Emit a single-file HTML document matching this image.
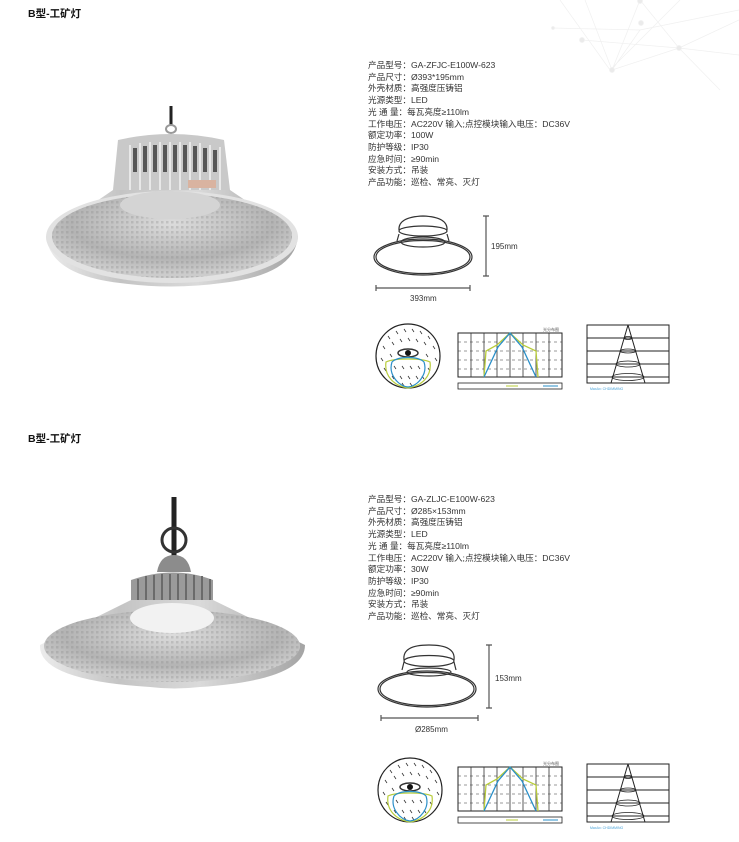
<!DOCTYPE html>
<html><head><meta charset="utf-8"><style>
html,body{margin:0;padding:0;background:#fff;}
body{width:739px;height:842px;position:relative;overflow:hidden;font-family:"Liberation Sans","Noto Sans CJK SC",sans-serif;color:#222;}
.t{position:absolute;left:28px;font-size:10.5px;font-weight:bold;color:#111;}
.spec{position:absolute;left:368px;font-size:8.6px;line-height:11.7px;color:#333;white-space:nowrap;}
svg{position:absolute;left:0;top:0;}
</style></head><body>
<svg width="739" height="842" viewBox="0 0 739 842">
<defs>
<linearGradient id="sh" x1="0" x2="1"><stop offset="0" stop-color="#ececec"/><stop offset=".3" stop-color="#c4c4c4"/><stop offset=".6" stop-color="#dadada"/><stop offset="1" stop-color="#a4a4a4"/></linearGradient>
<radialGradient id="in" cx=".5" cy=".35" r=".6"><stop offset="0" stop-color="#dcdcdc"/><stop offset=".7" stop-color="#b4b4b4"/><stop offset="1" stop-color="#cccccc"/></radialGradient>
<pattern id="dots" width="5" height="5" patternUnits="userSpaceOnUse"><rect x="1" y="1" width="2.5" height="2.5" fill="#8a8a8a" opacity=".3"/></pattern>
<g id="polar">
<circle cx="0" cy="0" r="32" fill="#fff" stroke="#222" stroke-width="1.2"/>
<g stroke="#333" stroke-width=".8" fill="none">
<path d="M-20-20l2 3M-12-25l2 3M-4-27l2 3M4-27l2 3M12-25l2 3M20-20l2 3M-25-10l2 3M-16-14l2 3M-8-17l2 3M0-18l2 3M8-17l2 3M16-14l2 3M25-10l2 3M-27 2l2 3M-18 -2l2 3M18-2l2 3M27 2l2 3M-24 12l2 3M-14 10l2 3M-6 10l2 3M2 10l2 3M10 10l2 3M20 12l2 3M-16 20l2 3M-8 20l2 3M0 20l2 3M8 20l2 3M14 20l2 3M-6 27l2 3M2 27l2 3"/>
</g>
<ellipse cx="0" cy="-3" rx="10" ry="4" fill="none" stroke="#333" stroke-width="1.5"/>
<circle cx="0" cy="-3" r="3" fill="#111"/>
<path d="M-22 6C-24 20-14 30 0 32C14 30 24 20 22 6C14 2-14 2-22 6Z" fill="none" stroke="#b8cc3a" stroke-width="1.2"/>
<path d="M-16 6C-20 18-10 30 0 31C10 30 20 18 16 6C10 0-10 0-16 6Z" fill="none" stroke="#2a8fc8" stroke-width="1.2"/>
</g>
<g id="bar">
<rect x="0" y="0" width="104" height="44" fill="#fff" stroke="#222" stroke-width="1"/>
<g stroke="#333" stroke-width=".6" stroke-dasharray="3 3"><path d="M0 9H104M0 18H104M0 27H104M0 36H104"/></g>
<g stroke="#333" stroke-width=".8"><path d="M13 0V44M26 0V44M39 0V44M52 0V44M65 0V44M78 0V44M91 0V44"/></g>
<path d="M26 44L28 18L39 12L52 0L65 12L78 18L80 44" fill="none" stroke="#b8cc3a" stroke-width="1.3"/>
<path d="M26 44L40 14L52 0L64 14L78 44" fill="none" stroke="#2a8fc8" stroke-width="1.3"/>
<rect x="0" y="50" width="104" height="6" fill="#fff" stroke="#222" stroke-width=".8"/>
<path d="M48 53H60" stroke="#b8cc3a" stroke-width="1"/><path d="M85 53H100" stroke="#2a8fc8" stroke-width="1"/>
</g>
<g id="cone">
<rect x="0" y="0" width="82" height="58" fill="#fff" stroke="#222" stroke-width="1"/>
<path d="M0 13H82M0 26H82M0 39H82M0 52H82" stroke="#222" stroke-width=".9"/>
<path d="M41 0L24 58M41 0L58 58" stroke="#222" stroke-width="1" fill="none"/>
<ellipse cx="41" cy="13" rx="4" ry="1.5" fill="none" stroke="#222" stroke-width=".8"/>
<ellipse cx="41" cy="26" rx="8" ry="2" fill="none" stroke="#222" stroke-width=".8"/>
<ellipse cx="41" cy="39" rx="12" ry="3" fill="none" stroke="#222" stroke-width=".8"/>
<ellipse cx="41" cy="52" rx="16" ry="3.5" fill="none" stroke="#222" stroke-width=".8"/>
</g>
</defs>

<g stroke="#f0f0f0" stroke-width=".7" fill="#ebebeb">
<path d="M560 0L610 70L680 0M585 0L612 70L640 0M612 70L679 48L739 20M582 40L679 48L739 55M640 0L679 48L720 90M612 70L640 30L739 10M552 28L640 30" fill="none"/>
<circle cx="612" cy="70" r="2.5"/><circle cx="679" cy="48" r="2.5"/><circle cx="641" cy="23" r="2.5"/><circle cx="582" cy="40" r="2.5"/><circle cx="640" cy="1" r="2.5"/><circle cx="553" cy="28" r="1.5"/>
</g>

<!-- Lamp 1 -->
<path d="M171 106V126" stroke="#222" stroke-width="3"/>
<ellipse cx="171" cy="129" rx="5" ry="4" fill="none" stroke="#999" stroke-width="2"/>
<path d="M113 190L118 140Q171 128 224 140L230 190Z" fill="#c9c9c9"/>
<g stroke="#555" stroke-width="4"><path d="M135 148V172M145 146V172M155 145V172M165 145V172M175 145V172M185 145V172M195 146V172M205 148V172M215 150V172"/></g>
<g stroke="#e8e8e8" stroke-width="2"><path d="M130 145V190M140 143V190M150 142V190M160 142V190M170 142V190M180 142V190M190 142V190M200 143V190M210 145V190M220 147V190"/></g>
<path d="M113 190L46 236Q50 275 120 283Q171 290 222 283Q295 275 298 236L230 190Z" fill="url(#sh)"/>
<ellipse cx="172" cy="237" rx="126" ry="46" fill="#e2e2e2"/>
<ellipse cx="172" cy="236" rx="120" ry="42" fill="url(#in)"/>
<ellipse cx="172" cy="236" rx="120" ry="42" fill="url(#dots)"/>
<ellipse cx="170" cy="205" rx="50" ry="14" fill="#d4d4d4"/>
<rect x="188" y="180" width="28" height="8" fill="#d9b3a0"/>

<!-- Lamp 2 -->
<path d="M174 497V560" stroke="#222" stroke-width="5"/>
<circle cx="174" cy="540" r="12" fill="none" stroke="#333" stroke-width="3"/>
<path d="M157 572Q160 555 174 555Q188 555 191 572Z" fill="#8c8c8c"/>
<path d="M131 580Q174 565 213 580V600Q174 612 131 600Z" fill="#9a9a9a"/>
<g stroke="#6a6a6a" stroke-width="2"><path d="M138 579V600M146 576V602M154 575V603M162 574V604M170 574V604M178 574V604M186 574V604M194 575V603M202 576V602M210 579V600"/></g>
<path d="M131 600L40 645Q38 680 150 687Q174 690 200 687Q305 680 305 645L213 600Z" fill="url(#sh)"/>
<ellipse cx="172" cy="646" rx="128" ry="36" fill="url(#in)"/>
<ellipse cx="172" cy="646" rx="128" ry="36" fill="url(#dots)"/>
<ellipse cx="172" cy="618" rx="42" ry="15" fill="#f2f2f2"/>

<!-- Drawing 1 -->
<g fill="none" stroke="#333" stroke-width="1.2">
<path d="M399 230Q398 217 423 216Q448 217 447 230"/>
<ellipse cx="423" cy="231" rx="24" ry="5"/>
<path d="M399 234L397 241M447 234L449 241"/>
<ellipse cx="423" cy="242" rx="22" ry="5"/>
<ellipse cx="423" cy="257" rx="49" ry="18"/>
<ellipse cx="423" cy="257" rx="47" ry="16.5"/>
</g>
<path d="M486 216V276M483 216H489M483 276H489" stroke="#555" stroke-width="1.2"/>
<text x="491" y="249" font-size="8" fill="#333" font-family="Liberation Sans">195mm</text>
<path d="M376 288H470M376 285V291M470 285V291" stroke="#555" stroke-width="1.2"/>
<text x="410" y="301" font-size="8" fill="#333" font-family="Liberation Sans">393mm</text>

<!-- Drawing 2 -->
<g fill="none" stroke="#333" stroke-width="1.2">
<path d="M404 660Q402 645 429 645Q456 645 454 660"/>
<ellipse cx="429" cy="661" rx="25" ry="5.5"/>
<path d="M404 662L402 670M454 662L456 670"/>
<ellipse cx="429" cy="672" rx="22" ry="4"/>
<ellipse cx="427" cy="689" rx="49" ry="18"/>
<ellipse cx="427" cy="689" rx="47" ry="16.5"/>
</g>
<path d="M489 645V708M486 645H492M486 708H492" stroke="#555" stroke-width="1.2"/>
<text x="495" y="681" font-size="8" fill="#333" font-family="Liberation Sans">153mm</text>
<path d="M381 718H478M381 715V721M478 715V721" stroke="#555" stroke-width="1.2"/>
<text x="415" y="732" font-size="8" fill="#333" font-family="Liberation Sans">Ø285mm</text>

<use href="#polar" x="408" y="356"/>
<use href="#bar" x="458" y="333"/>
<use href="#cone" x="587" y="325"/>
<text x="543" y="331" font-size="4" fill="#555">光分布图</text>
<text x="590" y="390" font-size="3.5" fill="#4aa3d8">MaxAx: CHDIMMING</text>

<use href="#polar" x="410" y="790"/>
<use href="#bar" x="458" y="767"/>
<use href="#cone" x="587" y="764"/>
<text x="543" y="765" font-size="4" fill="#555">光分布图</text>
<text x="590" y="829" font-size="3.5" fill="#4aa3d8">MaxAx: CHDIMMING</text>
</svg>
<div class="t" style="top:6px">B型-工矿灯</div>
<div class="t" style="top:431px">B型-工矿灯</div>
<div class="spec" style="top:60px">产品型号：GA-ZFJC-E100W-623<br>产品尺寸：Ø393*195mm<br>外壳材质：高强度压铸铝<br>光源类型：LED<br>光 通 量：每瓦亮度≥110lm<br>工作电压：AC220V 输入;点控模块输入电压：DC36V<br>额定功率：100W<br>防护等级：IP30<br>应急时间：≥90min<br>安装方式：吊装<br>产品功能：巡检、常亮、灭灯</div>
<div class="spec" style="top:494px">产品型号：GA-ZLJC-E100W-623<br>产品尺寸：Ø285×153mm<br>外壳材质：高强度压铸铝<br>光源类型：LED<br>光 通 量：每瓦亮度≥110lm<br>工作电压：AC220V 输入;点控模块输入电压：DC36V<br>额定功率：30W<br>防护等级：IP30<br>应急时间：≥90min<br>安装方式：吊装<br>产品功能：巡检、常亮、灭灯</div>
</body></html>
